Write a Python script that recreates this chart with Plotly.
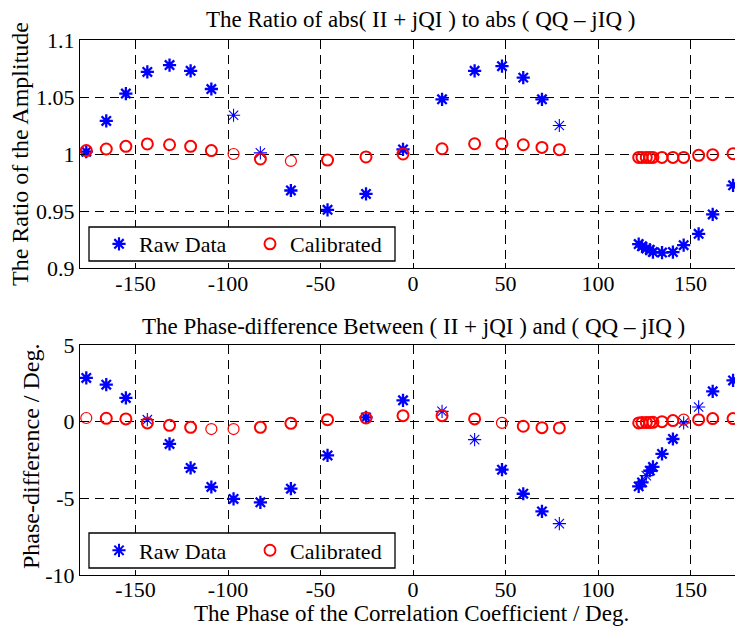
import plotly.graph_objects as go

# ---- data ----
phase = [-176.6, -165.8, -155.2, -143.6, -131.6, -120.2, -109.0, -97.0, -82.5, -66.0,
         -46.2, -25.4, -5.4, 15.7, 33.3, 48.1, 59.6, 69.7, 79.1,
         122.0, 123.8, 126.1, 128.0, 129.7, 134.6, 140.5, 146.3, 154.4, 162.0, 173.0]

ratio_raw = [1.002, 1.029, 1.053, 1.072, 1.078, 1.073, 1.057, 1.034, 1.001, 0.968,
             0.951, 0.965, 1.004, 1.048, 1.073, 1.077, 1.067, 1.048, 1.025,
             0.921, 0.919, 0.917, 0.916, 0.914, 0.9135, 0.914, 0.920, 0.930, 0.947, 0.9725]
ratio_cal = [1.003, 1.0044, 1.0067, 1.0088, 1.0081, 1.0067, 1.003, 1.000, 0.9956, 0.9939,
             0.9947, 0.9974, 1.000, 1.0046, 1.009, 1.009, 1.0081, 1.0058, 1.0038,
             0.997, 0.997, 0.997, 0.997, 0.997, 0.997, 0.997, 0.997, 0.9988, 0.9994, 1.0003]

pdiff_raw = [2.85, 2.41, 1.55, 0.13, -1.45, -3.02, -4.26, -5.04, -5.26, -4.37,
             -2.2, 0.28, 1.39, 0.67, -1.17, -3.13, -4.7, -5.85, -6.65,
             -4.22, -3.96, -3.52, -3.2, -2.95, -2.1, -1.13, -0.08, 0.96, 1.98, 2.69]
pdiff_cal = [0.24, 0.22, 0.18, -0.08, -0.24, -0.37, -0.48, -0.48, -0.37, -0.11,
             0.13, 0.24, 0.39, 0.39, 0.18, -0.08, -0.3, -0.39, -0.41,
             -0.08, -0.06, -0.05, -0.05, -0.04, 0.0, 0.07, 0.13, 0.13, 0.2, 0.2]

x_ticks = [-150, -100, -50, 0, 50, 100, 150]
x_ticktext = ["-150", "-100", "-50", "0", "50", "100", "150"]
y1_ticks = [0.9, 0.95, 1.0, 1.05, 1.1]
y1_ticktext = ["0.9", "0.95", "1", "1.05", "1.1"]
y2_ticks = [-10, -5, 0, 5]
y2_ticktext = ["-10", "-5", "0", "5"]

# ---- styles ----
FONT = "Liberation Serif"
BLUE = "rgb(0,0,255)"
RED = "rgb(255,0,0)"
W, H = 743, 627
L, R = 72, 5
OFF = 8  # page body margin

raw_w1 = [2.3]*30
for i in (7, 8, 18):
    raw_w1[i] = 1.1
raw_w2 = [2.3]*30
for i in (3, 13, 14, 18, 21, 26, 27):
    raw_w2[i] = 1.1
cal_w1 = [2.0]*30
for i in (7, 9):
    cal_w1[i] = 1.2
cal_w2 = [2.0]*30
for i in (0, 6, 7, 15, 26):
    cal_w2[i] = 1.2

fig = go.Figure()
fig.add_trace(go.Scatter(x=phase, y=ratio_raw, mode="markers", name="Raw Data",
                         marker=dict(symbol="asterisk-open", size=11, color=BLUE,
                                     line=dict(color=BLUE, width=raw_w1)),
                         xaxis="x", yaxis="y", legend="legend"))
fig.add_trace(go.Scatter(x=phase, y=ratio_cal, mode="markers", name="Calibrated",
                         marker=dict(symbol="circle-open", size=11, color=RED,
                                     line=dict(color=RED, width=cal_w1)),
                         xaxis="x", yaxis="y", legend="legend"))
fig.add_trace(go.Scatter(x=phase, y=pdiff_raw, mode="markers", name="Raw Data",
                         marker=dict(symbol="asterisk-open", size=11, color=BLUE,
                                     line=dict(color=BLUE, width=raw_w2)),
                         xaxis="x2", yaxis="y2", legend="legend2"))
fig.add_trace(go.Scatter(x=phase, y=pdiff_cal, mode="markers", name="Calibrated",
                         marker=dict(symbol="circle-open", size=11, color=RED,
                                     line=dict(color=RED, width=cal_w2)),
                         xaxis="x2", yaxis="y2", legend="legend2"))

def py(p):
    return 1 - (p - OFF) / H

def px(p):
    return (p - OFF - L) / (W - L - R)

axis_common = dict(showline=True, linecolor="black", linewidth=1,
                   ticks="inside", ticklen=5, tickcolor="black", automargin=False,
                   showgrid=True, gridcolor="black", gridwidth=1, griddash="9px,6px",
                   zeroline=False, tickfont=dict(family=FONT, size=22, color="black"))

xr = [-180, 180]
legend_common = dict(orientation="h", xanchor="left", yanchor="middle",
                     borderwidth=0, bgcolor="rgba(0,0,0,0)",
                     font=dict(family=FONT, size=22, color="black"),
                     entrywidth=100, itemwidth=30, indentation=6)
fig.update_layout(
    template="none",
    width=W, height=H,
    margin=dict(l=L, r=R, t=0, b=0, autoexpand=False),
    paper_bgcolor="white", plot_bgcolor="white",
    font=dict(family=FONT, size=22, color="black"),
    xaxis=dict(domain=[0, 1], range=xr, tickvals=x_ticks, ticktext=x_ticktext,
               anchor="y", mirror=True, ticklabelstandoff=-4, **axis_common),
    yaxis=dict(domain=[py(268), py(40)], range=[0.9, 1.1], tickvals=y1_ticks,
               ticktext=y1_ticktext, anchor="x", **axis_common),
    xaxis2=dict(domain=[0, 1], range=xr, tickvals=x_ticks, ticktext=x_ticktext,
                anchor="y2", mirror=True, ticklabelstandoff=-5, **axis_common),
    yaxis2=dict(domain=[py(575), py(345)], range=[-10, 5], tickvals=y2_ticks,
                ticktext=y2_ticktext, anchor="x2", **axis_common),
    legend=dict(x=px(93), y=py(244), **legend_common),
    legend2=dict(x=px(93), y=py(550.5), **legend_common),
    showlegend=True,
)

# legend boxes
for (y0, y1) in ((227, 261), (533, 568)):
    fig.add_shape(type="rect", xref="paper", yref="paper",
                  x0=px(89), x1=px(395), y0=py(y1), y1=py(y0),
                  fillcolor="white", line=dict(color="black", width=1.3), layer="above")

annots = [
    dict(text="The Ratio of abs( II + jQI ) to abs ( QQ – jIQ )", x=px(420), y=py(19), size=23),
    dict(text="The Phase-difference Between ( II + jQI ) and ( QQ – jIQ )", x=px(413), y=py(326), size=23),
    dict(text="The Phase of the Correlation Coefficient / Deg.", x=px(411), y=py(613), size=23),
    dict(text="The Ratio of the Amplitude", x=px(20), y=py(154), textangle=-90, size=24),
    dict(text="Phase-difference / Deg.", x=px(31), y=py(457), textangle=-90, size=24),
]
for a in annots:
    size = a.pop("size")
    fig.add_annotation(xref="paper", yref="paper", xanchor="center", yanchor="middle",
                       showarrow=False, font=dict(family=FONT, size=size, color="black"), **a)

fig.write_html("out.html")
